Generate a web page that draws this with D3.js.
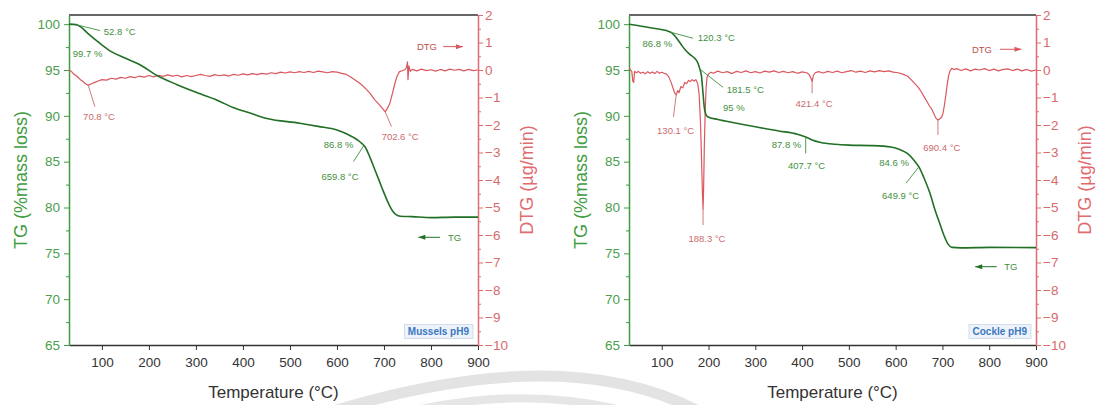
<!DOCTYPE html>
<html><head><meta charset="utf-8">
<script src="https://cdn.jsdelivr.net/npm/d3@7"></script>
<style>
body{margin:0;background:#fff}
svg{display:block}
text{font-family:"Liberation Sans",Arial,Helvetica,sans-serif}
</style></head>
<body><svg id="c" width="1097" height="405"></svg>
<script>
// ---------- DATA ----------
const xTicks = [100,200,300,400,500,600,700,800,900];
const tgTicks = [65,70,75,80,85,90,95,100];
const dtgTicks = [-10,-9,-8,-7,-6,-5,-4,-3,-2,-1,0,1,2];

// Mussels pH9: TG (%), [temperature, value]
const musselsTG = [[30,100.0],[45,99.95],[55,99.7],[70,99.0],[96,97.9],[120,97.0],[149,96.3],[180,95.6],[217,94.4],[260,93.4],[309,92.4],[350,91.6],[379,90.9],[415,90.3],[451,89.7],[521,89.2],[560,88.85],[600,88.45],[620,88.05],[635,87.65],[648,87.2],[660,86.6],[670,85.5],[680,84.2],[690,82.9],[700,81.6],[710,80.4],[718,79.65],[725,79.25],[735,79.05],[760,79.0],[800,78.9],[850,78.95],[900,78.95]];
// Mussels pH9: DTG (µg/min)
const musselsDTG = [[30,0.02],[35,-0.05],[40,-0.15],[45,-0.2],[50,-0.28],[55,-0.36],[60,-0.42],[65,-0.5],[71,-0.55],[78,-0.5],[85,-0.45],[92,-0.4],[100,-0.35],[110,-0.37],[120,-0.3],[130,-0.33],[140,-0.27],[150,-0.3],[160,-0.24],[170,-0.28],[180,-0.22],[190,-0.26],[200,-0.2],[210,-0.25],[220,-0.19],[230,-0.23],[240,-0.18],[250,-0.22],[260,-0.19],[270,-0.25],[280,-0.2],[290,-0.24],[300,-0.2],[310,-0.16],[320,-0.2],[330,-0.23],[340,-0.17],[350,-0.21],[360,-0.18],[370,-0.22],[380,-0.16],[390,-0.19],[400,-0.14],[410,-0.18],[420,-0.13],[430,-0.17],[440,-0.12],[450,-0.15],[460,-0.1],[470,-0.13],[480,-0.08],[490,-0.11],[500,-0.07],[510,-0.1],[520,-0.06],[530,-0.09],[540,-0.05],[550,-0.09],[560,-0.04],[570,-0.07],[580,-0.1],[590,-0.06],[600,-0.08],[610,-0.12],[620,-0.16],[630,-0.26],[640,-0.38],[650,-0.5],[660,-0.66],[670,-0.84],[680,-1.08],[690,-1.26],[698,-1.42],[702.6,-1.52],[708,-1.38],[713,-1.18],[718,-0.85],[723,-0.5],[728,-0.22],[733,-0.06],[740,-0.02],[745,0.02],[748,0.1],[750,0.3],[751,-0.35],[753,0.15],[756,-0.05],[760,0.02],[770,-0.03],[780,0.03],[790,-0.02],[800,0.01],[810,-0.04],[820,0.02],[830,-0.03],[840,0.03],[850,-0.01],[860,0.02],[870,-0.03],[880,0.02],[890,-0.02],[900,0.0]];

// Cockle pH9: TG (%)
const cockleTG = [[30,100.0],[60,99.75],[90,99.5],[110,99.3],[120,99.1],[130,98.6],[140,97.9],[150,97.2],[160,96.7],[170,96.3],[176,95.9],[181.5,95.1],[185,94.3],[188,92.6],[191,90.9],[194,90.2],[198,89.9],[220,89.6],[260,89.2],[300,88.8],[350,88.35],[390,88.0],[407.7,87.7],[420,87.4],[440,87.1],[470,86.9],[500,86.8],[550,86.75],[590,86.6],[610,86.3],[625,85.9],[640,85.1],[650,84.4],[660,83.3],[673,81.6],[685,79.6],[694,78.3],[703,77.0],[712,76.0],[720,75.65],[740,75.6],[800,75.65],[900,75.62]];
// Cockle pH9: DTG (µg/min)
const cockleDTG = [[30,0.1],[33,0.0],[36,-0.05],[38,-0.4],[40,-0.45],[42,-0.05],[46,-0.1],[50,-0.05],[55,-0.12],[60,-0.08],[65,-0.14],[70,-0.06],[75,-0.12],[80,-0.07],[85,-0.13],[90,-0.05],[95,-0.12],[100,-0.08],[105,-0.12],[110,-0.15],[115,-0.25],[120,-0.45],[125,-0.7],[128,-0.85],[131,-0.9],[134,-0.75],[137,-0.82],[141,-0.6],[145,-0.65],[149,-0.45],[153,-0.5],[157,-0.38],[161,-0.42],[165,-0.35],[169,-0.4],[173,-0.35],[177,-0.5],[180,-0.9],[183,-2.0],[185,-3.2],[187,-4.5],[188.3,-5.05],[189.5,-4.3],[191,-2.8],[193,-1.4],[195,-0.6],[197,-0.25],[200,-0.15],[205,-0.08],[210,-0.12],[220,-0.04],[230,-0.1],[240,-0.06],[250,-0.13],[260,-0.05],[270,-0.09],[280,-0.03],[290,-0.1],[300,-0.06],[310,-0.11],[320,-0.04],[330,-0.08],[340,-0.03],[350,-0.09],[360,-0.05],[370,-0.1],[380,-0.06],[390,-0.12],[400,-0.07],[410,-0.1],[415,-0.16],[419,-0.3],[421.4,-0.42],[424,-0.2],[428,-0.1],[435,-0.06],[445,-0.11],[455,-0.05],[465,-0.09],[475,-0.04],[485,-0.1],[495,-0.06],[505,-0.02],[515,-0.08],[525,-0.04],[535,-0.09],[545,-0.03],[555,-0.07],[565,-0.02],[575,-0.06],[585,-0.03],[595,-0.08],[605,-0.1],[615,-0.15],[625,-0.22],[632,-0.33],[640,-0.48],[648,-0.62],[655,-0.8],[660,-0.95],[666,-1.12],[672,-1.3],[677,-1.42],[682,-1.6],[686,-1.75],[690.4,-1.82],[694,-1.78],[698,-1.72],[701,-1.6],[704,-1.3],[707,-0.95],[710,-0.55],[713,-0.22],[716,-0.04],[720,0.06],[725,0.02],[730,0.05],[740,-0.02],[750,0.04],[760,-0.03],[770,0.03],[780,0.0],[790,0.05],[800,-0.02],[810,0.03],[820,-0.03],[830,0.02],[840,0.04],[850,-0.02],[860,0.03],[870,-0.03],[880,0.02],[890,-0.04],[900,0.0]];

// Annotations: text, series axis ("tg"/"dtg"), text anchor [T, value], optional leader [[T,v],[T,v]]
const musselsNotes = [
  {t:"52.8 °C", ax:"tg", at:[104,98.8], lead:[[52.8,99.85],[96,99.3]]},
  {t:"99.7 %", ax:"tg", at:[38,96.47]},
  {t:"70.8 °C", ax:"dtg", at:[60,-1.82], lead:[[70.8,-0.55],[85,-1.33]]},
  {t:"702.6 °C", ax:"dtg", at:[695,-2.55], lead:[[702.6,-1.52],[716,-2.06]]},
  {t:"86.8 %", ax:"tg", at:[572,86.51]},
  {t:"659.8 °C", ax:"tg", at:[567,83.05], lead:[[657,86.75],[635,85.0]]}
];
const cockleNotes = [
  {t:"86.8 %", ax:"tg", at:[59,97.53]},
  {t:"120.3 °C", ax:"tg", at:[177,98.14], lead:[[120.3,99.1],[167,98.46]]},
  {t:"181.5 °C", ax:"tg", at:[239,92.44], lead:[[181.5,95.1],[231,93.11]]},
  {t:"95 %", ax:"tg", at:[231,90.55]},
  {t:"130.1 °C", ax:"dtg", at:[90,-2.31], lead:[[131,-0.9],[125,-1.7]]},
  {t:"188.3 °C", ax:"dtg", at:[157,-6.25], lead:[[188.3,-5.05],[188.3,-5.64]]},
  {t:"421.4 °C", ax:"dtg", at:[386,-1.34], lead:[[421.4,-0.42],[421.4,-0.85]]},
  {t:"87.8 %", ax:"tg", at:[335,86.44], lead:[[407.7,87.7],[407.7,85.9]]},
  {t:"407.7 °C", ax:"tg", at:[370,84.25]},
  {t:"84.6 %", ax:"tg", at:[565,84.5]},
  {t:"649.9 °C", ax:"tg", at:[571,80.98], lead:[[649.9,84.45],[622,82.64]]},
  {t:"690.4 °C", ax:"dtg", at:[659,-2.94], lead:[[690.4,-1.82],[690.4,-2.36]]}
];

// ---------- DRAW ----------
const svg = d3.select("#c");
const C = {
  tgLine:"#226f26", tgAxis:"#3f9c40", tgText:"#4b9e4b", tgNote:"#3f8f40",
  dtgLine:"#d9575e", dtgAxis:"#df6c70", dtgText:"#d76a6c", dtgNote:"#cc6a6c",
  black:"#333"
};
const Y0 = 15, Y1 = 345;

// faint background watermark arcs
svg.append("path").attr("d","M 330 412 Q 565 340 700 412").attr("fill","none")
  .attr("stroke","#e3e3e3").attr("stroke-width",11);
svg.append("path").attr("d","M 395 415 Q 520 383 630 412").attr("fill","none")
  .attr("stroke","#e6e6e6").attr("stroke-width",8);

function panel(cfg){
  const g = svg.append("g");
  const x = d3.scaleLinear().domain([30,900]).range([cfg.x0,cfg.x1]);
  const yT = d3.scaleLinear().domain([65,101]).range([Y1,Y0]);
  const yD = d3.scaleLinear().domain([-10,2]).range([Y1,Y0]);

  // top frame
  g.append("line").attr("x1",cfg.x0).attr("x2",cfg.x1).attr("y1",Y0).attr("y2",Y0)
    .attr("stroke",C.black).attr("stroke-width",1.5);

  // X axis
  const xa = g.append("g").attr("transform",`translate(0,${Y1})`)
    .call(d3.axisBottom(x).tickValues(xTicks).tickSize(5).tickSizeOuter(0).tickPadding(7));
  xa.select(".domain").attr("stroke",C.black).attr("stroke-width",1.5);
  xa.selectAll(".tick line").attr("stroke",C.black);
  xa.selectAll("text").attr("font-size",13.5).attr("fill","#333").attr("font-family",null);

  // TG axis
  const ta = g.append("g").attr("transform",`translate(${cfg.x0},0)`)
    .call(d3.axisLeft(yT).tickValues(tgTicks).tickSize(5).tickSizeOuter(0).tickPadding(4));
  ta.select(".domain").attr("stroke",C.tgAxis).attr("stroke-width",1.5);
  ta.selectAll(".tick line").attr("stroke",C.tgAxis);
  ta.selectAll("text").attr("font-size",13.5).attr("fill",C.tgText).attr("font-family",null);
  const tm = g.append("g").attr("transform",`translate(${cfg.x0},0)`)
    .call(d3.axisLeft(yT).tickValues(d3.range(67.5,101,5)).tickSize(3).tickFormat(""));
  tm.select(".domain").remove();
  tm.selectAll(".tick line").attr("stroke",C.tgAxis);

  // DTG axis
  const da = g.append("g").attr("transform",`translate(${cfg.x1},0)`)
    .call(d3.axisRight(yD).tickValues(dtgTicks).tickSize(5).tickSizeOuter(0).tickPadding(2)
      .tickFormat(d => d < 0 ? "\u2212" + Math.abs(d) : String(d)));
  da.select(".domain").attr("stroke",C.dtgAxis).attr("stroke-width",1.5);
  da.selectAll(".tick line").attr("stroke",C.dtgAxis);
  da.selectAll("text").attr("font-size",13.5).attr("fill",C.dtgText).attr("font-family",null);
  const dm = g.append("g").attr("transform",`translate(${cfg.x1},0)`)
    .call(d3.axisRight(yD).tickValues(d3.range(-9.5,2,1)).tickSize(3).tickFormat(""));
  dm.select(".domain").remove();
  dm.selectAll(".tick line").attr("stroke",C.dtgAxis);

  // titles
  g.append("text").attr("x",(cfg.x0+cfg.x1)/2).attr("y",398).attr("text-anchor","middle")
    .attr("font-size",17).attr("fill","#333").text("Temperature (°C)");
  g.append("text").attr("transform",`translate(${cfg.x0-42},${(Y0+Y1)/2}) rotate(-90)`)
    .attr("text-anchor","middle").attr("font-size",18).attr("fill",C.tgAxis).text("TG (%mass loss)");
  g.append("text").attr("transform",`translate(${cfg.x1+55},${(Y0+Y1)/2}) rotate(-90)`)
    .attr("text-anchor","middle").attr("font-size",18).attr("fill",C.dtgAxis).text("DTG (µg/min)");

  // curves
  const clip = "clip"+cfg.id;
  g.append("clipPath").attr("id",clip).append("rect")
    .attr("x",cfg.x0).attr("y",Y0).attr("width",cfg.x1-cfg.x0).attr("height",Y1-Y0);
  g.append("path").datum(cfg.dtg).attr("clip-path",`url(#${clip})`)
    .attr("d", d3.line().x(d=>x(d[0])).y(d=>yD(d[1])))
    .attr("fill","none").attr("stroke",C.dtgLine).attr("stroke-width",1.2).attr("stroke-linejoin","round");
  g.append("path").datum(cfg.tg).attr("clip-path",`url(#${clip})`)
    .attr("d", d3.line().curve(d3.curveMonotoneX).x(d=>x(d[0])).y(d=>yT(d[1])))
    .attr("fill","none").attr("stroke",C.tgLine).attr("stroke-width",1.6);

  // annotations
  cfg.notes.forEach(n => {
    const ys = n.ax === "tg" ? yT : yD;
    const col = n.ax === "tg" ? C.tgNote : C.dtgNote;
    if (n.lead) g.append("line")
      .attr("x1",x(n.lead[0][0])).attr("y1",ys(n.lead[0][1]))
      .attr("x2",x(n.lead[1][0])).attr("y2",ys(n.lead[1][1]))
      .attr("stroke",col).attr("stroke-width",0.9);
    g.append("text").attr("x",x(n.at[0])).attr("y",ys(n.at[1]))
      .attr("font-size",9.5).attr("fill",col).text(n.t);
  });

  // series arrows (DTG -> right axis, TG <- left axis)
  const mk = (x1,x2,y,col,dir) => {
    g.append("line").attr("x1",x1).attr("x2",x2).attr("y1",y).attr("y2",y)
      .attr("stroke",col).attr("stroke-width",1);
    const hx = dir > 0 ? x2 : x1;
    g.append("path").attr("d",`M${hx},${y} L${hx-dir*7},${y-2.5} L${hx-dir*7},${y+2.5} Z`).attr("fill",col);
  };
  const da1 = cfg.dtgArrow;
  g.append("text").attr("x",x(da1.text[0])).attr("y",yD(da1.text[1]))
    .attr("font-size",9.5).attr("fill","#c0504d").text("DTG");
  mk(x(da1.from), x(da1.to), yD(da1.y), C.dtgLine, 1);
  const tg1 = cfg.tgArrow;
  g.append("text").attr("x",x(tg1.text[0])).attr("y",yT(tg1.text[1]))
    .attr("font-size",9.5).attr("fill",C.tgNote).text("TG");
  mk(x(tg1.from), x(tg1.to), yT(tg1.y), C.tgLine, -1);

  // sample label box
  const bx = g.append("g");
  const t = bx.append("text").attr("font-size",10).attr("font-weight","bold").attr("fill","#3b78c0")
    .attr("text-anchor","end").attr("x",cfg.x1-9).attr("y",Y1-10).text(cfg.name);
  const bb = t.node().getBBox();
  bx.insert("rect","text").attr("x",bb.x-3.5).attr("y",bb.y-1.5).attr("width",bb.width+7).attr("height",bb.height+3)
    .attr("fill","#eef3fa").attr("stroke","#c6d6ea").attr("stroke-width",0.8);
}

panel({id:"m", x0:69, x1:478, tg:musselsTG, dtg:musselsDTG, notes:musselsNotes, name:"Mussels pH9",
  dtgArrow:{text:[770,0.727], from:826, to:868, y:0.85},
  tgArrow:{text:[836,76.35], from:773, to:819, y:76.75}});
panel({id:"k", x0:629, x1:1036, tg:cockleTG, dtg:cockleDTG, notes:cockleNotes, name:"Cockle pH9",
  dtgArrow:{text:[763,0.625], from:823, to:869, y:0.753},
  tgArrow:{text:[832,73.16], from:770, to:816, y:73.54}});
</script></body></html>
